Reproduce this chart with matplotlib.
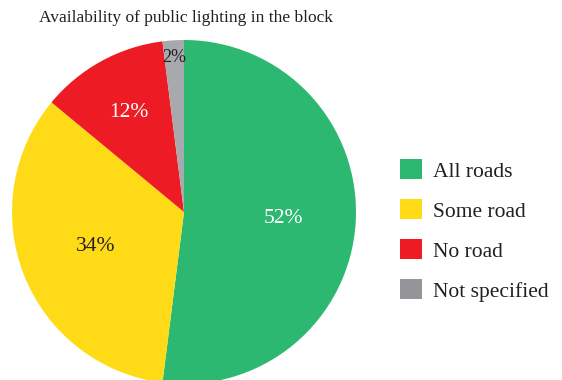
import numpy as np
import matplotlib
matplotlib.use("Agg")
import matplotlib.pyplot as plt
from matplotlib.patches import Patch

# data
categories = ["All roads", "Some road", "No road", "Not specified"]
shares = [52, 34, 12, 2]
colors = ["#2DB872", "#FFDB17", "#ED1C24", "#A7A9AC"]
legend_colors = ["#2DB872", "#FFDB17", "#ED1C24", "#939598"]
title = "Availability of public lighting in the block"

plt.rcParams["font.family"] = ["Liberation Serif", "DejaVu Serif"]
text_col = "#231F20"

W, H = 562, 380
fig = plt.figure(figsize=(W / 100, H / 100), dpi=100)

# pie axes: centre (184, 212) px from top, radius 172 px
cx, cy, r = 184, H - 212, 172
ax = fig.add_axes([(cx - r) / W, (cy - r) / H, 2 * r / W, 2 * r / H])
wedges, _ = ax.pie(shares, colors=colors, startangle=90, counterclock=False,
                   radius=1, wedgeprops=dict(linewidth=0))
ax.set_xlim(-1, 1)
ax.set_ylim(-1, 1)
ax.set_aspect("equal")
ax.axis("off")

# label placement (radius fraction, colour, size)
label_r = [0.58, 0.55, 0.66, 0.9]
label_c = ["white", text_col, "white", text_col]
label_s = [15.5, 15.5, 15.5, 13]
for w, v, lr, lc, ls in zip(wedges, shares, label_r, label_c, label_s):
    ang = np.deg2rad((w.theta1 + w.theta2) / 2)
    ax.text(lr * np.cos(ang), lr * np.sin(ang), f"{v}%", ha="center",
            va="center", color=lc, fontsize=ls)

fig.text(186 / W, 1 - 18 / H, title, ha="center", va="center",
         fontsize=12.5, color=text_col)

handles = [Patch(facecolor=c, edgecolor="none") for c in legend_colors]
fig.legend(handles, categories, loc="center left",
           bbox_to_anchor=(400 / W, 1 - 230.5 / H), frameon=False,
           fontsize=15.5, handlelength=1.02, handleheight=1.02,
           handletextpad=0.5, labelspacing=0.83, labelcolor=text_col,
           borderpad=0, borderaxespad=0)

fig.savefig("out.png", dpi=100)
